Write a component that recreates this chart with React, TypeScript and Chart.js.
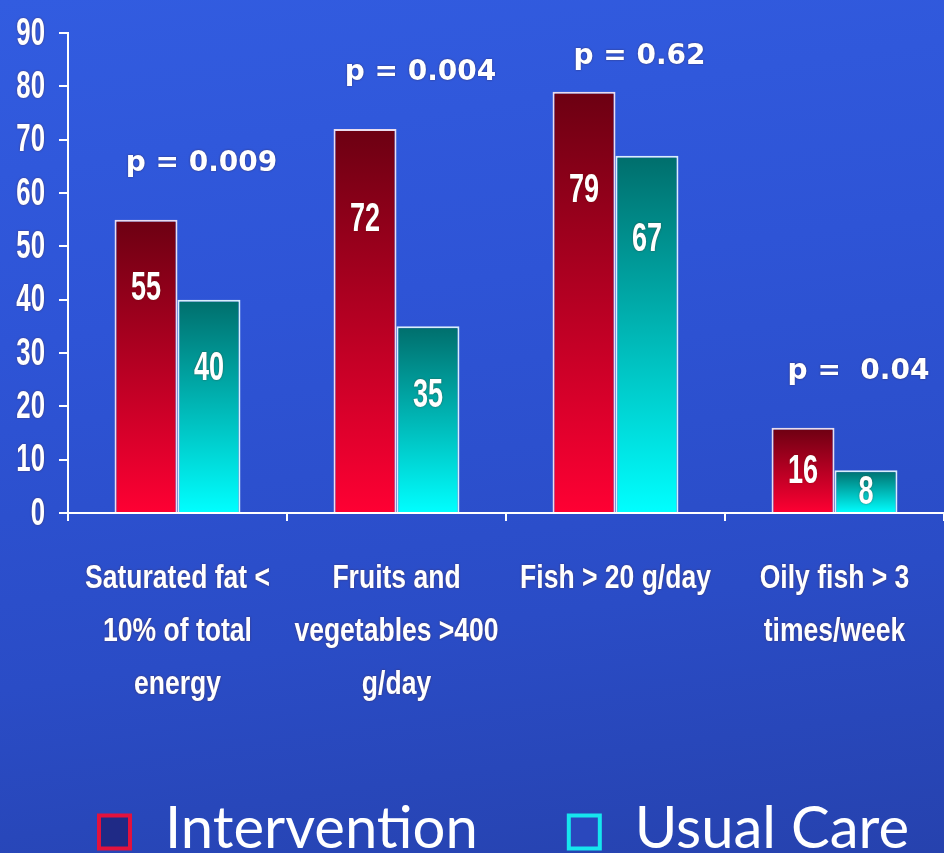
import React, { useEffect, useRef } from "react";
import { Chart, registerables } from "chart.js";

Chart.register(...registerables);

// Diet targets reached (% of participants) per group
const categories: string[][] = [
  ["Saturated fat <", "10% of total", "energy"],
  ["Fruits and", "vegetables >400", "g/day"],
  ["Fish > 20 g/day"],
  ["Oily fish > 3", "times/week"],
];
const seriesNames = ["Intervention", "Usual Care"];
const intervention = [55, 72, 79, 16];
const usualCare = [40, 35, 67, 8];
const pValues = ["p = 0.009", "p = 0.004", "p = 0.62", "p =  0.04"];
const yMin = 0;
const yMax = 90;
const yStep = 10;

const SANS = "'Liberation Sans', Arial, sans-serif";
const ROUND = "'DejaVu Sans', 'Open Sans', sans-serif";
const LEGEND_FONT = "Lato, 'Open Sans', sans-serif";

const W = 944;
const H = 853;

// vertical gradient per bar: dark at the top, bright at the base
function barFill(dark: string, light: string) {
  return (ctx: any) => {
    const chart = ctx.chart;
    const y = chart.scales?.y;
    if (!chart.chartArea || !y || ctx.type !== "data") return light;
    const top = y.getPixelForValue(ctx.raw);
    const base = y.getPixelForValue(0);
    const g = chart.ctx.createLinearGradient(0, top, 0, base);
    g.addColorStop(0, dark);
    g.addColorStop(1, light);
    return g;
  };
}

// text squeezed horizontally for a condensed look
function narrowText(
  ctx: CanvasRenderingContext2D,
  text: string,
  x: number,
  y: number,
  font: string,
  squeeze: number,
  align: CanvasTextAlign,
  glow = "rgba(90,30,0,0.55)"
) {
  ctx.save();
  ctx.translate(x, y);
  ctx.scale(squeeze, 1);
  ctx.font = font;
  ctx.fillStyle = "#ffffff";
  ctx.textAlign = align;
  ctx.textBaseline = "middle";
  ctx.shadowColor = glow;
  ctx.shadowBlur = 2;
  ctx.fillText(text, 0, 0);
  ctx.restore();
}

const axisLabels = {
  id: "axisLabels",
  afterDraw(chart: any) {
    const { ctx } = chart;
    const x = chart.scales.x;
    const y = chart.scales.y;
    const yLabelRight = y.right - 9 - 14;
    y.ticks.forEach((t: any, i: number) => {
      narrowText(ctx, String(t.value), yLabelRight, y.getPixelForTick(i) + 1, `bold 39px ${SANS}`, 0.66, "right");
    });
    const firstLine = x.top + 66;
    const lineStep = 53;
    (chart.data.labels as string[][]).forEach((lines, i) => {
      const px = x.getPixelForTick(i);
      lines.forEach((ln, k) => {
        narrowText(ctx, ln, px, firstLine + k * lineStep, `bold 34px ${SANS}`, 0.78, "center");
      });
    });
  },
};

const valueLabels = {
  id: "valueLabels",
  afterDatasetsDraw(chart: any) {
    const { ctx } = chart;
    const y = chart.scales.y;
    chart.data.datasets.forEach((ds: any, di: number) => {
      const meta = chart.getDatasetMeta(di);
      meta.data.forEach((bar: any, i: number) => {
        const v = ds.data[i];
        const at = v >= 30 ? Math.min(v * 0.765, v - 13) : v * 0.48;
        narrowText(ctx, String(v), bar.x, y.getPixelForValue(at), `bold 41px ${SANS}`, 0.66, "center");
      });
    });
  },
};

const pLabels = {
  id: "pLabels",
  afterDatasetsDraw(chart: any) {
    const { ctx } = chart;
    const x = chart.scales.x;
    const y = chart.scales.y;
    pValues.forEach((t, i) => {
      const top = Math.max(intervention[i], usualCare[i]);
      const py = y.getPixelForValue(Math.min(top + 10.5, 85.5));
      ctx.save();
      ctx.font = `bold 28px ${ROUND}`;
      ctx.fillStyle = "#ffffff";
      ctx.textAlign = "center";
      ctx.textBaseline = "middle";
      ctx.shadowColor = "rgba(60,20,0,0.55)";
      ctx.shadowBlur = 2;
      ctx.fillText(t, x.getPixelForValue(i) + 24, py);
      ctx.restore();
    });
  },
};

const legendRow = {
  id: "legendRow",
  afterDraw(chart: any) {
    const { ctx } = chart;
    const box = 31;
    const gap = 35;
    const spacing = 91;
    const centerX = chart.width / 2 + 32;
    const cy = chart.height - 22;
    const strokes = ["#e3123d", "#16e6ee"];
    const fills = ["#1f2a86", "#2a48bd"];
    ctx.save();
    ctx.font = `58px ${LEGEND_FONT}`;
    const widths = seriesNames.map((n) => ctx.measureText(n).width);
    const total = widths.reduce((a, w) => a + box + gap + w, 0) + spacing * (seriesNames.length - 1);
    let cx = centerX - total / 2;
    seriesNames.forEach((name, i) => {
      ctx.fillStyle = fills[i];
      ctx.fillRect(cx, cy - box / 2, box, box + 2);
      ctx.strokeStyle = strokes[i];
      ctx.lineWidth = 4;
      ctx.strokeRect(cx, cy - box / 2, box, box + 2);
      ctx.fillStyle = "#ffffff";
      ctx.textAlign = "left";
      ctx.textBaseline = "alphabetic";
      ctx.fillText(name, cx + box + gap, chart.height - 5);
      cx += box + gap + widths[i] + spacing;
    });
    ctx.restore();
  },
};

export default function App() {
  const ref = useRef<HTMLCanvasElement | null>(null);

  useEffect(() => {
    if (!ref.current) return;
    const chart = new Chart(ref.current, {
      type: "bar",
      data: {
        labels: categories,
        datasets: [
          {
            label: seriesNames[0],
            data: intervention,
            backgroundColor: barFill("#6c0012", "#ff0033"),
            borderColor: "rgba(255,236,240,0.9)",
            borderWidth: { top: 2, left: 2, right: 2, bottom: 0 },
            borderSkipped: false,
          },
          {
            label: seriesNames[1],
            data: usualCare,
            backgroundColor: barFill("#006e6c", "#00ffff"),
            borderColor: "rgba(236,255,255,0.9)",
            borderWidth: { top: 2, left: 2, right: 2, bottom: 0 },
            borderSkipped: false,
          },
        ],
      },
      options: {
        responsive: false,
        animation: false,
        devicePixelRatio: 1,
        categoryPercentage: 0.575,
        barPercentage: 1,
        layout: { padding: { left: 0, top: 33, right: 0, bottom: 140 } },
        plugins: {
          tooltip: { enabled: false },
          legend: { display: false },
        },
        scales: {
          x: {
            offset: true,
            grid: {
              offset: true,
              drawOnChartArea: false,
              drawTicks: true,
              tickLength: 8,
              color: "#ffffff",
              lineWidth: 2,
            },
            border: { display: true, color: "#ffffff", width: 2 },
            ticks: { display: false, autoSkip: false },
            afterFit(scale: any) {
              scale.height = 200;
            },
          },
          y: {
            min: yMin,
            max: yMax,
            grid: {
              drawOnChartArea: false,
              drawTicks: true,
              tickLength: 9,
              color: "#ffffff",
              lineWidth: 2,
            },
            border: { display: true, color: "#ffffff", width: 2 },
            ticks: { display: false, autoSkip: false, stepSize: yStep },
            afterFit(scale: any) {
              scale.width = 68;
            },
          },
        },
      },
      plugins: [valueLabels, pLabels, axisLabels, legendRow],
    });
    return () => chart.destroy();
  }, []);

  return (
    <div
      style={{
        position: "fixed",
        left: 0,
        top: 0,
        width: W,
        height: H,
        overflow: "hidden",
        background:
          "linear-gradient(172deg, #325ce0 0%, #2e54d6 35%, #2a4cc6 70%, #2642ae 100%)",
      }}
    >
      <canvas ref={ref} width={W} height={H} style={{ display: "block", width: W, height: H }} />
    </div>
  );
}
